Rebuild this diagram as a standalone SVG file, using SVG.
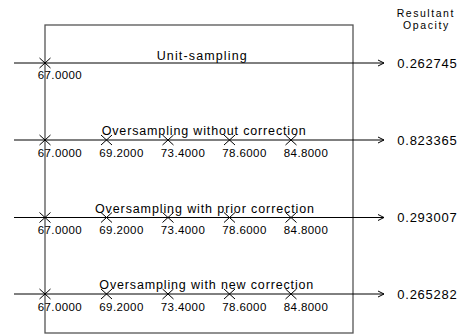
<svg xmlns="http://www.w3.org/2000/svg" width="469" height="336" viewBox="0 0 469 336">
<defs>
<style>
.frame{fill:none;stroke:#555;stroke-width:1.3}
.line{fill:none;stroke:#000;stroke-width:1}
.x{fill:none;stroke:#000;stroke-width:1}
.num{font-family:"Liberation Sans",Arial,sans-serif;font-size:11.5px;fill:#000}
.title{font-family:"Liberation Sans",Arial,sans-serif;font-size:12.5px;fill:#000}
.val{font-family:"Liberation Sans",Arial,sans-serif;font-size:13px;fill:#000}
.hdr{font-family:"Liberation Sans",Arial,sans-serif;font-size:10.5px;fill:#000}
</style>
<path id="cross" class="x" d="M-5.5,-5 L5.5,5 M-5.5,5 L5.5,-5"/>
</defs>
<rect width="469" height="336" fill="#fff"/>
<g id="frame"><rect class="frame" x="45" y="25" width="308" height="308"/></g>
<g id="header">
<text class="hdr" x="396.7" y="17" textLength="56.6" lengthAdjust="spacing">Resultant</text>
<text class="hdr" x="403" y="28.5" textLength="45.3" lengthAdjust="spacing">Opacity</text>
</g>
<g id="connectors">
<path class="line" d="M14,63 H384 M378,60 L384,63 L378,66"/>
<path class="line" d="M14,140 H384 M378,137 L384,140 L378,143"/>
<path class="line" d="M14,217.5 H384 M378,214.5 L384,217.5 L378,220.5"/>
<path class="line" d="M14,294 H384 M378,291 L384,294 L378,297"/>
</g>
<g id="row1">
<text class="title" x="156.7" y="60" textLength="90" lengthAdjust="spacing">Unit-sampling</text>
<use href="#cross" x="45" y="63"/>
<text class="num" x="37.7" y="79" textLength="44" lengthAdjust="spacing">67.0000</text>
<text class="val" x="397.3" y="67.5" textLength="59.4" lengthAdjust="spacing">0.262745</text>
</g>
<g id="row2">
<text class="title" x="101.7" y="135" textLength="204" lengthAdjust="spacing">Oversampling without correction</text>
<use href="#cross" x="45" y="140"/>
<use href="#cross" x="106.5" y="140"/>
<use href="#cross" x="168" y="140"/>
<use href="#cross" x="229.5" y="140"/>
<use href="#cross" x="291" y="140"/>
<text class="num" x="37.7" y="156.5" textLength="44" lengthAdjust="spacing">67.0000</text>
<text class="num" x="99.3" y="156.5" textLength="44" lengthAdjust="spacing">69.2000</text>
<text class="num" x="160.8" y="156.5" textLength="44" lengthAdjust="spacing">73.4000</text>
<text class="num" x="222.3" y="156.5" textLength="44" lengthAdjust="spacing">78.6000</text>
<text class="num" x="283.8" y="156.5" textLength="44" lengthAdjust="spacing">84.8000</text>
<text class="val" x="397.3" y="144.5" textLength="59.4" lengthAdjust="spacing">0.823365</text>
</g>
<g id="row3">
<text class="title" x="95" y="212.7" textLength="219" lengthAdjust="spacing">Oversampling with prior correction</text>
<use href="#cross" x="45" y="217.5"/>
<use href="#cross" x="106.5" y="217.5"/>
<use href="#cross" x="168" y="217.5"/>
<use href="#cross" x="229.5" y="217.5"/>
<use href="#cross" x="291" y="217.5"/>
<text class="num" x="37.7" y="234" textLength="44" lengthAdjust="spacing">67.0000</text>
<text class="num" x="99.3" y="234" textLength="44" lengthAdjust="spacing">69.2000</text>
<text class="num" x="160.8" y="234" textLength="44" lengthAdjust="spacing">73.4000</text>
<text class="num" x="222.3" y="234" textLength="44" lengthAdjust="spacing">78.6000</text>
<text class="num" x="283.8" y="234" textLength="44" lengthAdjust="spacing">84.8000</text>
<text class="val" x="397.3" y="222" textLength="59.4" lengthAdjust="spacing">0.293007</text>
</g>
<g id="row4">
<text class="title" x="99.3" y="289" textLength="214" lengthAdjust="spacing">Oversampling with new correction</text>
<use href="#cross" x="45" y="294"/>
<use href="#cross" x="106.5" y="294"/>
<use href="#cross" x="168" y="294"/>
<use href="#cross" x="229.5" y="294"/>
<use href="#cross" x="291" y="294"/>
<text class="num" x="37.7" y="310.5" textLength="44" lengthAdjust="spacing">67.0000</text>
<text class="num" x="99.3" y="310.5" textLength="44" lengthAdjust="spacing">69.2000</text>
<text class="num" x="160.8" y="310.5" textLength="44" lengthAdjust="spacing">73.4000</text>
<text class="num" x="222.3" y="310.5" textLength="44" lengthAdjust="spacing">78.6000</text>
<text class="num" x="283.8" y="310.5" textLength="44" lengthAdjust="spacing">84.8000</text>
<text class="val" x="397.3" y="298.5" textLength="59.4" lengthAdjust="spacing">0.265282</text>
</g>
</svg>
